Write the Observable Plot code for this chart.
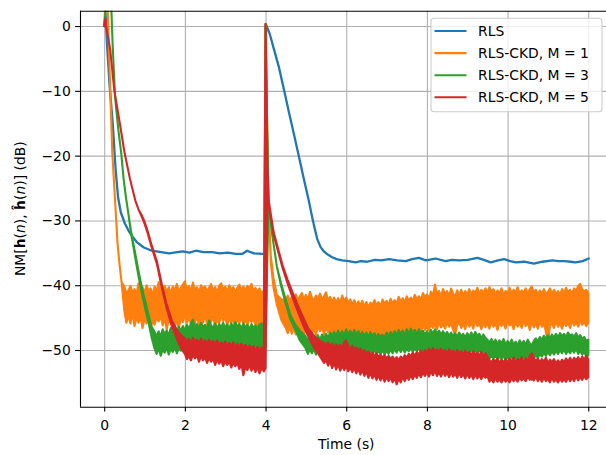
<!DOCTYPE html>
<html><head><meta charset="utf-8">
<script src="https://cdn.jsdelivr.net/npm/d3@7"></script>
<script src="https://cdn.jsdelivr.net/npm/@observablehq/plot@0.6"></script>
<style>
body{margin:0;background:#fff;}
#chart{position:relative;width:606px;height:455px;overflow:hidden;}
</style>
</head><body><div id="chart"></div>
<script>
// Series names and colours (legend order)
const seriesNames = ["RLS", "RLS-CKD, M = 1", "RLS-CKD, M = 3", "RLS-CKD, M = 5"];
const colors = ["#1f77b4", "#ff7f0e", "#2ca02c", "#d62728"];
const xTicks = [0, 2, 4, 6, 8, 10, 12];
const yTicks = [0, -10, -20, -30, -40, -50];
const xDomain = [-0.6, 12.44];
const yDomain = [-58.75, 2.37];

// RLS: [time (s), NM (dB)]
const rls = [
[0,0],[0.02,2],[0.06,-3],[0.12,-9],[0.2,-15],[0.27,-22],[0.33,-26.3],[0.4,-28.7],[0.5,-30.4],[0.6,-31.6],
[0.7,-32.5],[0.8,-33.3],[0.97,-34.1],[1.17,-34.6],[1.4,-34.8],[1.6,-35.0],[1.8,-34.8],[1.93,-34.7],[2.1,-34.9],[2.26,-34.6],
[2.45,-34.8],[2.67,-34.8],[2.85,-35.0],[3.05,-34.9],[3.25,-35.1],[3.41,-35.1],[3.53,-34.6],[3.7,-35.0],[3.91,-35.1],[3.99,-35.1],
[4.0,0.3],[4.09,-1.1],[4.2,-3.6],[4.32,-6.3],[4.45,-9.9],[4.57,-13.3],[4.69,-16.6],[4.82,-20.2],[4.94,-23.6],[5.06,-26.9],
[5.14,-29.3],[5.2,-31],[5.27,-32.8],[5.35,-34.0],[5.43,-34.7],[5.53,-35.2],[5.64,-35.6],[5.75,-35.9],[5.89,-36.1],[6.05,-36.2],
[6.22,-36.4],[6.35,-36.2],[6.5,-36.3],[6.7,-36.0],[6.85,-36.1],[7.05,-35.9],[7.25,-36.1],[7.46,-36.2],[7.62,-35.9],[7.79,-35.7],
[7.96,-36.1],[8.2,-35.8],[8.45,-36.2],[8.6,-36.0],[8.78,-36.1],[9.0,-36.0],[9.24,-35.7],[9.4,-36.0],[9.57,-36.4],[9.75,-36.1],
[9.9,-35.9],[10.05,-36.2],[10.19,-36.4],[10.4,-36.3],[10.64,-36.6],[10.85,-36.3],[11.1,-36.1],[11.25,-36.2],[11.4,-36.2],[11.55,-36.3],
[11.67,-36.4],[11.85,-36.2],[12.0,-35.8]
];

// RLS-CKD, M = 1: [time, lower edge dB, upper edge dB] of the noisy trace
const ckd1 = [
[0,0,0],[0.03,4,4],[0.08,4,4],[0.12,-4,-4],[0.15,-9.9,-9.9],[0.2,-19.5,-19.5],[0.27,-27,-27],[0.33,-33.5,-33.5],[0.38,-36.8,-36.8],[0.43,-39.5,-39.5],
[0.5,-44.0,-40.2],[0.55,-45.8,-41.3],[0.6,-44.6,-40.8],[0.65,-45.9,-40.1],[0.7,-44.3,-41.2],[0.75,-46.3,-40.6],[0.8,-45.0,-41.4],[0.85,-45.8,-39.7],[0.9,-44.8,-40.9],[0.95,-46.6,-40.3],
[1.0,-45.1,-41.2],[1.05,-45.9,-40.0],[1.1,-44.6,-40.9],[1.15,-46.8,-40.5],[1.2,-45.4,-41.5],[1.25,-46.1,-40.2],[1.3,-44.9,-41.0],[1.35,-45.6,-39.5],[1.4,-44.7,-40.6],[1.45,-46.2,-40.9],
[1.5,-45.0,-40.1],[1.55,-46.9,-41.1],[1.6,-45.2,-40.3],[1.65,-45.9,-41.3],[1.7,-44.8,-40.2],[1.75,-46.4,-40.8],[1.8,-45.3,-39.8],[1.85,-46.8,-41.0],[1.9,-44.9,-40.4],[1.95,-45.7,-39.9],
[2.0,-44.6,-39.4],[2.05,-45.8,-40.7],[2.1,-44.9,-40.1],[2.15,-46.0,-40.9],[2.2,-45.2,-39.6],[2.25,-45.9,-40.8],[2.3,-44.7,-40.3],[2.35,-46.3,-41.1],[2.4,-45.1,-40.0],[2.45,-45.8,-40.6],
[2.5,-44.5,-40.2],[2.55,-46.1,-41.0],[2.6,-45.0,-40.4],[2.65,-45.7,-39.8],[2.7,-44.8,-40.9],[2.75,-46.4,-40.3],[2.8,-45.3,-41.2],[2.85,-45.9,-40.1],[2.9,-44.6,-39.7],[2.95,-45.5,-40.8],
[3.0,-45.0,-40.2],[3.05,-46.2,-41.0],[3.1,-44.9,-40.0],[3.15,-45.8,-40.7],[3.2,-45.3,-40.3],[3.25,-46.5,-41.2],[3.3,-45.1,-40.4],[3.35,-45.9,-39.9],[3.4,-44.8,-40.8],[3.45,-46.0,-40.2],
[3.5,-45.2,-40.9],[3.55,-46.3,-40.1],[3.6,-44.9,-40.6],[3.65,-45.7,-39.8],[3.7,-45.3,-40.9],[3.75,-46.1,-40.4],[3.8,-46.6,-41.1],[3.85,-45.5,-40.5],[3.9,-46.9,-41.3],[3.96,-46.2,-40.8],
[4.0,-46.0,0.3],[4.07,-27,-27],[4.13,-36.5,-35.5],[4.2,-40.5,-39],[4.28,-43.0,-41.5],[4.4,-45.5,-42.2],[4.5,-46.6,-42.3],[4.55,-47.4,-41.6],[4.6,-46.3,-42.4],[4.65,-47.5,-41.8],
[4.7,-46.5,-42.5],[4.75,-47.6,-41.4],[4.8,-46.4,-42.3],[4.85,-47.3,-41.7],[4.9,-46.2,-41.2],[4.95,-47.8,-42.2],[5.0,-46.5,-41.5],[5.05,-47.2,-42.3],[5.1,-46.1,-41.0],[5.15,-47.4,-41.9],
[5.2,-46.6,-42.4],[5.25,-47.7,-41.6],[5.3,-46.3,-42.1],[5.35,-47.1,-41.3],[5.4,-46.5,-42.2],[5.45,-47.6,-41.7],[5.5,-46.4,-41.1],[5.55,-47.3,-42.4],[5.6,-46.8,-41.8],[5.65,-47.9,-42.6],
[5.7,-46.5,-41.9],[5.75,-47.4,-42.7],[5.8,-46.7,-42.0],[5.85,-47.8,-42.8],[5.9,-46.6,-41.6],[5.95,-47.5,-42.5],[6.0,-46.9,-41.9],[6.05,-47.8,-42.8],[6.1,-46.7,-42.2],[6.15,-48.2,-43.0],
[6.2,-47.1,-42.3],[6.25,-47.9,-43.2],[6.3,-46.8,-42.5],[6.35,-48.0,-43.1],[6.4,-47.3,-42.4],[6.45,-48.4,-43.3],[6.5,-47.0,-42.6],[6.55,-47.9,-43.4],[6.6,-47.4,-42.7],[6.65,-48.3,-43.0],
[6.7,-46.9,-42.3],[6.75,-47.8,-43.2],[6.8,-47.2,-42.6],[6.85,-48.1,-43.3],[6.9,-46.8,-42.2],[6.95,-47.7,-42.9],[7.0,-47.1,-42.4],[7.05,-48.0,-43.1],[7.1,-46.7,-42.1],[7.15,-47.6,-42.8],
[7.2,-47.0,-42.3],[7.25,-47.9,-42.9],[7.3,-46.6,-41.8],[7.35,-47.4,-42.6],[7.4,-46.9,-42.0],[7.45,-47.7,-42.7],[7.5,-46.4,-41.7],[7.55,-47.3,-42.5],[7.6,-46.7,-41.9],[7.65,-47.5,-42.4],
[7.7,-46.3,-41.5],[7.75,-47.1,-42.2],[7.8,-46.6,-41.7],[7.85,-47.3,-42.3],[7.9,-46.1,-41.2],[7.95,-46.9,-41.9],[8.0,-46.4,-41.4],[8.05,-47.0,-42.1],[8.1,-45.9,-41.0],[8.15,-46.6,-41.6],
[8.2,-46.2,-39.9],[8.25,-46.8,-41.5],[8.3,-45.7,-40.9],[8.35,-46.5,-41.7],[8.4,-46.0,-40.6],[8.45,-46.7,-41.4],[8.5,-45.6,-40.9],[8.55,-46.4,-41.7],[8.6,-45.9,-40.5],[8.65,-46.9,-41.3],
[8.7,-47.6,-41.8],[8.75,-46.2,-40.8],[8.8,-45.7,-41.5],[8.85,-46.6,-40.7],[8.9,-45.9,-41.6],[8.95,-46.8,-40.9],[9.0,-45.5,-41.4],[9.05,-46.4,-40.6],[9.1,-45.8,-41.5],[9.15,-46.7,-40.8],
[9.2,-45.4,-41.2],[9.25,-46.3,-40.4],[9.3,-45.9,-41.4],[9.35,-46.8,-40.7],[9.4,-45.6,-41.3],[9.45,-46.5,-40.5],[9.5,-45.8,-41.2],[9.55,-46.7,-40.3],[9.6,-45.5,-41.0],[9.65,-46.4,-40.6],
[9.7,-45.9,-41.5],[9.75,-46.9,-40.8],[9.8,-45.6,-41.3],[9.85,-46.3,-40.5],[9.9,-45.8,-41.6],[9.95,-46.7,-40.9],[10.0,-45.4,-41.2],[10.05,-46.2,-40.4],[10.1,-45.9,-41.3],[10.15,-46.8,-40.7],
[10.2,-45.5,-41.1],[10.25,-46.4,-40.3],[10.3,-45.8,-41.4],[10.35,-46.6,-40.8],[10.4,-45.4,-41.2],[10.45,-46.3,-40.5],[10.5,-45.7,-41.3],[10.55,-46.9,-40.6],[10.6,-45.6,-40.2],[10.65,-46.5,-41.1],
[10.7,-45.9,-40.7],[10.75,-46.7,-41.5],[10.8,-45.6,-40.8],[10.85,-46.4,-41.3],[10.9,-45.9,-40.6],[10.95,-47.2,-41.4],[11.0,-49.0,-41.0],[11.05,-46.3,-40.5],[11.1,-45.8,-41.3],[11.15,-46.6,-40.7],
[11.2,-45.5,-41.4],[11.25,-46.4,-40.9],[11.3,-45.9,-41.5],[11.35,-46.7,-40.6],[11.4,-45.6,-41.2],[11.45,-46.3,-40.4],[11.5,-45.8,-41.1],[11.55,-46.6,-40.7],[11.6,-45.4,-41.3],[11.65,-46.2,-40.5],
[11.7,-45.7,-40.9],[11.75,-46.4,-40.1],[11.8,-45.5,-39.8],[11.85,-46.1,-40.6],[11.9,-45.6,-41.0],[11.95,-46.3,-40.7],[12.0,-45.8,-41.2]
];

// RLS-CKD, M = 3
const ckd3 = [
[0,0,0],[0.06,4,4],[0.12,3,4],[0.17,4,4],[0.21,-3,-3],[0.27,-11,-11],[0.35,-16,-16],[0.42,-19.5,-19.5],[0.48,-23.5,-23.5],[0.54,-26.5,-26.5],
[0.6,-29,-29],[0.66,-31.8,-31.5],[0.73,-34.3,-33.8],[0.79,-36.5,-35.8],[0.85,-38.6,-37.8],[0.91,-40.5,-39.6],[0.97,-42.3,-41.3],[1.03,-44.0,-42.8],
[1.1,-45.8,-44.6],[1.18,-48.2,-46.5],[1.25,-49.8,-47.2],[1.3,-50.6,-47.9],[1.35,-49.7,-47.1],[1.4,-50.9,-48.0],[1.45,-49.9,-46.8],[1.5,-50.4,-47.6],
[1.55,-49.6,-47.0],[1.6,-50.7,-47.8],[1.65,-49.8,-46.6],[1.7,-50.3,-47.4],[1.75,-49.5,-46.7],[1.8,-50.5,-47.5],[1.85,-49.7,-46.4],[1.9,-50.1,-47.1],
[1.95,-49.3,-46.3],[2.0,-49.9,-47.0],[2.05,-49.2,-46.1],[2.1,-49.7,-46.8],[2.15,-48.9,-45.9],[2.2,-49.8,-45.3],[2.25,-49.1,-46.5],[2.3,-49.6,-46.0],
[2.35,-48.8,-46.7],[2.4,-49.5,-45.8],[2.45,-49.0,-46.4],[2.5,-49.7,-46.1],[2.55,-48.9,-46.8],[2.6,-49.4,-45.4],[2.65,-49.0,-46.2],[2.7,-49.6,-46.6],
[2.75,-48.8,-45.9],[2.8,-49.8,-46.7],[2.85,-49.1,-46.0],[2.9,-49.5,-46.5],[2.95,-48.9,-45.8],[3.0,-49.9,-46.6],[3.05,-49.2,-46.0],[3.1,-49.6,-46.7],
[3.15,-48.9,-45.9],[3.2,-49.7,-46.5],[3.25,-49.0,-45.7],[3.3,-49.5,-46.4],[3.35,-48.8,-46.0],[3.4,-49.8,-46.7],[3.45,-49.2,-45.9],[3.5,-49.6,-46.5],
[3.55,-49.0,-46.1],[3.6,-50.1,-46.9],[3.65,-49.3,-46.0],[3.7,-49.8,-46.6],[3.75,-49.2,-46.2],[3.8,-50.0,-46.8],[3.85,-49.4,-46.1],[3.9,-49.7,-45.9],
[3.96,-49.6,-46.4],[4.0,-49.6,0.3],
[4.07,-27,-27],[4.16,-32,-32],[4.28,-37.1,-37.1],[4.38,-40,-39.6],[4.49,-42.6,-42.0],[4.61,-45.2,-44.5],[4.73,-46.8,-46.0],[4.85,-48.5,-47.0],
[4.98,-49.6,-47.8],[5.05,-50.6,-48.5],[5.1,-49.9,-47.9],[5.15,-50.5,-48.6],[5.2,-49.8,-47.8],[5.25,-50.7,-48.4],[5.3,-50.0,-47.7],[5.35,-50.6,-48.5],
[5.4,-49.9,-47.6],[5.45,-50.4,-48.2],[5.5,-49.7,-47.5],[5.55,-50.6,-48.1],[5.6,-49.9,-47.3],[5.65,-50.3,-47.9],[5.7,-49.6,-47.2],[5.75,-50.5,-47.8],
[5.8,-49.8,-47.0],[5.85,-50.4,-47.7],[5.9,-49.7,-47.1],[5.95,-50.6,-47.8],[6.0,-49.9,-46.8],[6.05,-50.3,-47.6],[6.1,-49.6,-47.0],[6.15,-50.5,-47.7],
[6.2,-49.8,-46.9],[6.25,-50.4,-47.6],[6.3,-49.7,-47.1],[6.35,-50.6,-47.8],[6.4,-49.9,-47.2],[6.45,-50.5,-47.9],[6.5,-49.8,-47.3],[6.55,-50.7,-48.0],
[6.6,-50.0,-47.2],[6.65,-50.6,-47.9],[6.7,-49.9,-47.4],[6.75,-50.8,-48.1],[6.8,-50.1,-47.5],[6.85,-50.6,-48.0],[6.9,-50.0,-47.6],[6.95,-50.7,-48.1],
[7.0,-50.1,-47.3],[7.05,-50.6,-47.9],[7.1,-49.9,-47.2],[7.15,-50.5,-47.8],[7.2,-49.8,-47.1],[7.25,-50.4,-47.7],[7.3,-49.7,-46.9],[7.35,-50.3,-47.6],
[7.4,-49.6,-47.0],[7.45,-50.4,-47.7],[7.5,-49.8,-46.8],[7.55,-50.2,-47.5],[7.6,-49.6,-46.7],[7.65,-50.3,-47.4],[7.7,-49.7,-46.9],[7.75,-50.2,-47.6],
[7.8,-49.5,-46.8],[7.85,-50.4,-47.5],[7.9,-49.8,-47.0],[7.95,-50.3,-47.6],[8.0,-49.7,-47.1],[8.05,-50.2,-47.7],[8.1,-49.6,-46.9],[8.15,-50.3,-47.5],
[8.2,-49.5,-46.8],[8.25,-50.1,-47.4],[8.3,-49.7,-47.0],[8.35,-50.4,-47.6],[8.4,-49.8,-47.1],[8.45,-50.3,-47.7],[8.5,-49.7,-47.2],[8.55,-50.5,-47.8],
[8.6,-49.9,-47.3],[8.65,-50.4,-47.9],[8.7,-49.8,-47.4],[8.75,-50.6,-48.0],[8.8,-50.0,-47.3],[8.85,-50.5,-47.9],[8.9,-49.9,-47.5],[8.95,-50.6,-48.1],
[9.0,-50.0,-47.4],[9.05,-50.5,-48.0],[9.1,-49.8,-47.3],[9.15,-50.6,-47.9],[9.2,-50.0,-47.2],[9.25,-50.4,-47.8],[9.3,-49.9,-47.5],[9.35,-50.7,-48.2],
[9.4,-50.1,-47.6],[9.45,-50.6,-48.1],[9.5,-50.9,-48.4],[9.55,-51.4,-48.9],[9.6,-50.8,-48.3],[9.65,-51.3,-49.0],[9.7,-50.7,-48.4],[9.75,-51.5,-49.1],
[9.8,-50.9,-48.5],[9.85,-51.4,-49.0],[9.9,-50.8,-48.3],[9.95,-51.6,-49.2],[10.0,-51.0,-48.6],[10.05,-51.5,-49.1],[10.1,-50.9,-48.4],[10.15,-51.6,-49.2],
[10.2,-51.1,-48.7],[10.25,-51.7,-49.3],[10.3,-51.0,-48.5],[10.35,-51.5,-49.1],[10.4,-50.9,-48.6],[10.45,-51.6,-49.2],[10.5,-51.0,-48.4],[10.55,-51.5,-49.0],
[10.6,-54.6,-49.3],[10.65,-51.3,-48.6],[10.7,-50.8,-48.2],[10.75,-51.2,-48.7],[10.8,-50.6,-48.0],[10.85,-51.0,-48.5],[10.9,-50.4,-47.8],[10.95,-50.9,-48.3],
[11.0,-50.3,-47.7],[11.05,-50.8,-48.2],[11.1,-50.2,-47.6],[11.15,-50.7,-48.1],[11.2,-50.1,-47.5],[11.25,-50.6,-48.0],[11.3,-50.0,-47.4],[11.35,-50.5,-47.9],
[11.4,-49.9,-47.5],[11.45,-50.6,-48.0],[11.5,-50.0,-47.3],[11.55,-50.5,-47.8],[11.6,-49.9,-47.6],[11.65,-50.4,-48.0],[11.7,-49.8,-47.4],[11.75,-50.6,-48.1],
[11.8,-50.1,-47.7],[11.85,-50.7,-48.3],[11.9,-50.3,-48.0],[11.95,-51.0,-48.6],[12.0,-50.8,-48.4]
];

// RLS-CKD, M = 5
const ckd5 = [
[0,0,0],[0.03,1.2,1.2],[0.06,-0.5,-0.5],[0.15,-3.7,-3.7],[0.25,-9.9,-9.9],[0.4,-15.5,-15.5],[0.5,-19.4,-19.4],[0.64,-23.6,-23.6],[0.77,-26.9,-26.9],[0.85,-28.3,-28.3],
[0.93,-29.4,-29.2],[1.0,-30.5,-30.2],[1.06,-31.6,-31.3],[1.18,-34.2,-33.9],[1.31,-36.8,-36.4],[1.43,-40.4,-39.9],[1.55,-43.6,-43.0],[1.68,-46.4,-45.5],
[1.84,-48.8,-47.3],[1.92,-49.9,-47.8],[2.0,-50.6,-48.2],[2.05,-51.4,-48.7],[2.1,-50.9,-48.3],[2.15,-51.6,-49.0],[2.2,-50.7,-48.1],[2.25,-51.3,-48.8],
[2.3,-50.8,-48.4],[2.35,-51.8,-49.0],[2.4,-51.0,-48.2],[2.45,-51.6,-48.9],[2.5,-51.1,-48.5],[2.55,-52.0,-49.1],[2.6,-51.2,-48.4],[2.65,-51.8,-49.0],
[2.7,-51.3,-48.6],[2.75,-52.3,-49.2],[2.8,-51.5,-48.5],[2.85,-52.1,-49.3],[2.9,-51.6,-48.8],[2.95,-52.5,-49.3],[3.0,-51.7,-48.7],[3.05,-52.3,-49.4],
[3.1,-51.8,-48.9],[3.15,-52.7,-49.5],[3.2,-51.9,-48.8],[3.25,-52.5,-49.6],[3.3,-52.0,-49.1],[3.35,-52.9,-49.6],[3.4,-52.1,-49.0],[3.45,-53.9,-49.7],
[3.5,-52.6,-49.2],[3.55,-53.1,-49.8],[3.6,-52.3,-49.3],[3.65,-53.2,-49.9],[3.7,-52.5,-49.4],[3.75,-53.4,-50.0],[3.8,-52.6,-49.5],[3.85,-53.6,-50.1],
[3.9,-52.8,-49.6],[3.96,-53.3,-49.8],[4.0,-52.8,0.3],[4.05,-24,-22],
[4.08,-27.5,-27],[4.2,-32.2,-31.8],[4.42,-37.3,-36.9],[4.55,-39.8,-39.2],[4.67,-41.9,-41.1],[4.82,-44.4,-43.4],[4.95,-46.4,-45.2],[5.05,-47.8,-46.6],
[5.2,-49.6,-47.8],[5.35,-51.0,-48.6],[5.45,-52.0,-48.9],[5.5,-51.5,-49.3],[5.55,-52.4,-48.8],[5.6,-51.7,-49.4],[5.65,-52.8,-49.0],[5.7,-52.0,-49.6],
[5.75,-53.0,-49.1],[5.8,-52.2,-49.7],[5.85,-53.2,-49.2],[5.9,-52.4,-49.8],[5.95,-53.1,-48.8],[6.0,-52.5,-48.5],[6.05,-53.3,-49.4],[6.1,-52.7,-49.9],
[6.15,-53.4,-49.3],[6.2,-52.8,-49.9],[6.25,-53.6,-49.6],[6.3,-52.9,-50.2],[6.35,-53.8,-49.7],[6.4,-53.1,-50.4],[6.45,-54.0,-50.0],[6.5,-53.3,-50.6],
[6.55,-54.3,-50.2],[6.6,-53.5,-50.8],[6.65,-54.4,-50.4],[6.7,-53.7,-51.0],[6.75,-54.6,-50.5],[6.8,-53.9,-51.1],[6.85,-54.7,-50.7],[6.9,-54.0,-51.2],
[6.95,-54.9,-50.8],[7.0,-54.1,-51.3],[7.05,-54.8,-50.9],[7.1,-54.2,-51.4],[7.15,-55.0,-51.0],[7.2,-54.3,-51.5],[7.25,-55.3,-51.1],[7.3,-54.4,-51.6],
[7.35,-55.0,-51.0],[7.4,-54.2,-51.4],[7.45,-54.8,-50.8],[7.5,-54.1,-51.2],[7.55,-54.6,-50.6],[7.6,-53.9,-51.0],[7.65,-54.5,-50.4],[7.7,-53.8,-50.9],
[7.75,-54.3,-50.3],[7.8,-53.6,-50.7],[7.85,-54.2,-50.1],[7.9,-53.5,-50.6],[7.95,-54.0,-50.0],[8.0,-53.4,-50.4],[8.05,-54.1,-49.8],[8.1,-53.3,-50.3],
[8.15,-53.9,-49.7],[8.2,-53.2,-50.2],[8.25,-54.0,-49.9],[8.3,-53.4,-50.4],[8.35,-54.1,-49.8],[8.4,-53.3,-50.3],[8.45,-54.0,-50.0],[8.5,-53.5,-50.5],
[8.55,-54.2,-49.9],[8.6,-53.4,-50.4],[8.65,-54.1,-50.1],[8.7,-53.6,-50.6],[8.75,-54.3,-50.0],[8.8,-53.5,-50.5],[8.85,-54.2,-50.2],[8.9,-53.7,-50.7],
[8.95,-54.4,-50.1],[9.0,-53.6,-50.6],[9.05,-54.3,-50.3],[9.1,-53.8,-50.8],[9.15,-54.5,-50.2],[9.2,-53.7,-50.7],[9.25,-54.4,-50.4],[9.3,-53.9,-50.9],
[9.35,-54.5,-50.3],[9.4,-53.8,-50.8],[9.45,-54.3,-50.5],[9.5,-54.0,-51.0],[9.55,-54.9,-51.6],[9.6,-54.4,-51.9],[9.65,-55.0,-51.4],[9.7,-54.3,-51.8],
[9.75,-54.9,-51.3],[9.8,-54.5,-52.0],[9.85,-55.0,-51.5],[9.9,-54.4,-51.9],[9.95,-54.9,-51.4],[10.0,-54.5,-52.0],[10.05,-55.0,-51.3],[10.1,-54.3,-51.8],
[10.15,-54.8,-51.2],[10.2,-54.4,-51.9],[10.25,-54.9,-51.4],[10.3,-54.2,-51.7],[10.35,-54.7,-51.1],[10.4,-54.3,-51.8],[10.45,-54.8,-51.3],[10.5,-54.1,-51.6],
[10.55,-54.6,-50.9],[10.6,-54.2,-50.5],[10.65,-54.7,-51.2],[10.7,-54.1,-51.7],[10.75,-54.8,-51.3],[10.8,-54.3,-51.9],[10.85,-54.9,-51.4],[10.9,-54.2,-51.8],
[10.95,-54.8,-51.2],[11.0,-54.4,-52.0],[11.05,-55.0,-51.5],[11.1,-54.3,-51.9],[11.15,-54.9,-51.4],[11.2,-54.5,-52.1],[11.25,-55.0,-51.6],[11.3,-54.4,-52.0],
[11.35,-54.9,-51.5],[11.4,-54.5,-51.9],[11.45,-54.9,-51.3],[11.5,-54.2,-51.8],[11.55,-54.8,-51.2],[11.6,-54.3,-51.8],[11.65,-54.8,-51.2],[11.7,-54.1,-51.6],
[11.75,-54.7,-51.1],[11.8,-54.2,-51.7],[11.85,-54.6,-51.0],[11.9,-54.0,-51.5],[11.95,-54.5,-50.9],[12.0,-54.2,-51.5]
];

const toLine = rows => rows.map(([t, db]) => ({t, db}));
const toBand = rows => rows.map(([t, lo, hi]) => ({t, lo, hi}));
const bandMark = (rows, color) => Plot.areaY(toBand(rows), {
  x: "t", y1: "lo", y2: "hi", fill: color, stroke: color, strokeWidth: 2.1,
  strokeLinejoin: "round", clip: true
});

const fmt = d3.format("d");
const plot = Plot.plot({
  width: 606, height: 455,
  marginLeft: 80, marginRight: 0, marginTop: 10.7, marginBottom: 48.3,
  style: {fontFamily: "DejaVu Sans", fontSize: "13.9px", background: "white", color: "black", overflow: "hidden"},
  x: {domain: xDomain},
  y: {domain: yDomain},
  marks: [
    Plot.gridX({ticks: xTicks, stroke: "#b0b0b0", strokeOpacity: 1, strokeWidth: 1.1}),
    Plot.gridY({ticks: yTicks, stroke: "#b0b0b0", strokeOpacity: 1, strokeWidth: 1.1}),
    Plot.line(toLine(rls), {x: "t", y: "db", stroke: colors[0], strokeWidth: 2.3, strokeLinejoin: "round", clip: true}),
    bandMark(ckd1, colors[1]),
    bandMark(ckd3, colors[2]),
    bandMark(ckd5, colors[3]),
    Plot.ruleX([xDomain[0]], {stroke: "black", strokeWidth: 1.1}),
    Plot.ruleY([yDomain[0], yDomain[1]], {stroke: "black", strokeWidth: 1.1}),
    Plot.axisX({ticks: xTicks, tickSize: 4.9, tickPadding: 7.8, strokeWidth: 1.1, label: null, tickFormat: fmt, fontSize: 13.9}),
    Plot.axisY({ticks: yTicks, tickSize: 4.9, tickPadding: 4.8, strokeWidth: 1.1, label: null, tickFormat: fmt, fontSize: 13.9})
  ]
});
document.getElementById("chart").appendChild(plot);

const svg = d3.select(plot);
const font = "DejaVu Sans";
// axis labels
svg.append("text").attr("x", 346.3).attr("y", 449).attr("text-anchor", "middle")
  .attr("font-family", font).attr("font-size", "13.9px").attr("fill", "black").text("Time (s)");
const yl = svg.append("text").attr("transform", "translate(25,208.7) rotate(-90)")
  .attr("text-anchor", "middle").attr("font-family", font).attr("font-size", "13.9px").attr("fill", "black");
yl.append("tspan").text("NM[");
yl.append("tspan").attr("font-weight", "bold").text("h");
yl.append("tspan").text("(");
yl.append("tspan").attr("font-style", "italic").text("n");
yl.append("tspan").text("), ");
yl.append("tspan").attr("font-weight", "bold").text("\u0125");
yl.append("tspan").text("(");
yl.append("tspan").attr("font-style", "italic").text("n");
yl.append("tspan").text(")] (dB)");

// legend
const lg = svg.append("g");
lg.append("rect").attr("x", 431).attr("y", 18.3).attr("width", 171).attr("height", 93.4).attr("rx", 3)
  .attr("fill", "white").attr("fill-opacity", 0.8).attr("stroke", "#cccccc").attr("stroke-width", 1.1);
seriesNames.forEach((name, i) => {
  const y = 31 + 22.1 * i;
  lg.append("line").attr("x1", 434.5).attr("x2", 466.5).attr("y1", y).attr("y2", y)
    .attr("stroke", colors[i]).attr("stroke-width", 2.08);
  lg.append("text").attr("x", 478).attr("y", y + 5).attr("text-anchor", "start").attr("font-family", font)
    .attr("font-size", "13.9px").attr("fill", "black").text(name);
});
</script>
</body></html>
